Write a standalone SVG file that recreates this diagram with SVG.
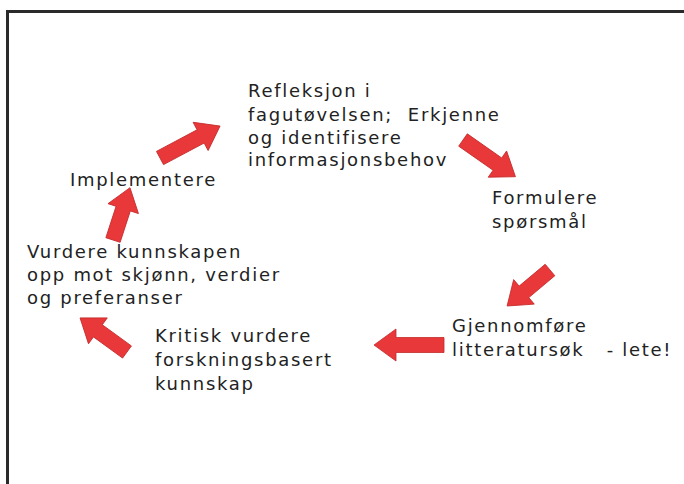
<svg xmlns="http://www.w3.org/2000/svg" width="684" height="484" viewBox="0 0 684 484">
<style>
.t{font-family:"DejaVu Sans","Liberation Sans",sans-serif;font-size:18px;letter-spacing:1.7px;fill:#222}
.a{fill:#e8383a;stroke:#c42a2a;stroke-width:0.8}
</style>
<rect width="684" height="484" fill="#fff"/>
<path d="M7.5,484 V11.5 H684" fill="none" stroke="#2a2a2a" stroke-width="3"/>
<g id="n1"><text class="t" x="248" y="97">Refleksjon i</text><text class="t" x="248" y="121" xml:space="preserve">fagutøvelsen;  Erkjenne</text><text class="t" x="248" y="144">og identifisere</text><text class="t" x="248" y="166">informasjonsbehov</text></g>
<g id="n2"><text class="t" x="492" y="204">Formulere</text><text class="t" x="492" y="228">spørsmål</text></g>
<g id="n3"><text class="t" x="452" y="332">Gjennomføre</text><text class="t" x="452" y="356" xml:space="preserve">litteratursøk   - lete!</text></g>
<g id="n4"><text class="t" x="155" y="342">Kritisk vurdere</text><text class="t" x="155" y="366">forskningsbasert</text><text class="t" x="155" y="390">kunnskap</text></g>
<g id="n5"><text class="t" x="27" y="258">Vurdere kunnskapen</text><text class="t" x="27" y="281">opp mot skjønn, verdier</text><text class="t" x="27" y="304">og preferanser</text></g>
<g id="n6"><text class="t" x="70" y="186">Implementere</text></g>
<g id="connectors">
<path class="a" transform="translate(160,158) rotate(-28)" d="M0,-7.5 H46 V-16 L68,0 L46,16 V7.5 H0 Z"/>
<path class="a" transform="translate(463,140) rotate(35)" d="M0,-7.5 H42 V-16 L64,0 L42,16 V7.5 H0 Z"/>
<path class="a" transform="translate(550,270) rotate(140)" d="M0,-7.5 H34 V-16 L56,0 L34,16 V7.5 H0 Z"/>
<path class="a" transform="translate(444,345) rotate(180)" d="M0,-7.5 H48 V-16 L70,0 L48,16 V7.5 H0 Z"/>
<path class="a" transform="translate(127,352) rotate(216)" d="M0,-7.5 H36 V-16 L58,0 L36,16 V7.5 H0 Z"/>
<path class="a" transform="translate(113,240) rotate(-72)" d="M0,-7.5 H33 V-16 L55,0 L33,16 V7.5 H0 Z"/>
</g>
</svg>
